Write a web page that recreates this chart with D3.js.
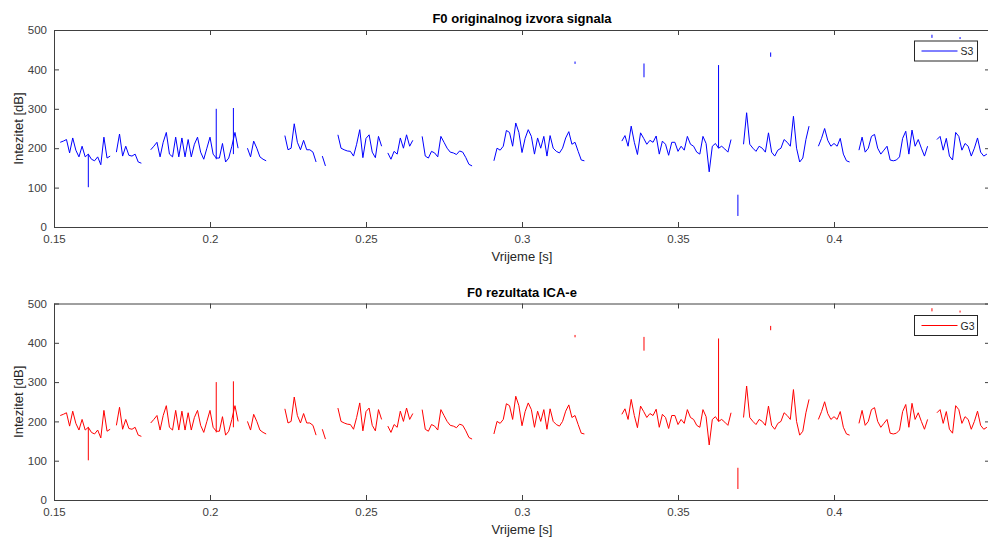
<html>
  <head>
    <meta charset="utf-8">
    <title>F0</title>
    <script src="https://d3js.org/d3.v7.min.js"></script>
    <style>
      body { margin: 0; background: #fff; }
      text { font-family: "Liberation Sans", Arial, sans-serif; }
    </style>
  </head>
  <body>

    <svg id="grafico" width="988" height="543"></svg>

    <script>
    // vrijeme pocetka i korak (s)
    const t0 = 0.15;
    const dt = 0.001;

    // F0 originalnog izvora (S3), jedna vrijednost po koraku, null = nema F0
    const s3 = [
      null, null, 215, 218, 222, 188, 226, 195, 178, 205,
      178, 185, 172, 168, 178, 158, 228, 175, 180, null,
      190, 236, 180, 205, 182, 180, 185, 165, 162, null,
      null, 196, 205, 215, 178, 215, 240, 185, 178, 228,
      178, 226, 178, 222, 178, 210, 228, 190, 172, 200,
      228, 185, 175, 175, 212, 165, 175, 205, 240, 200,
      null, null, 200, 178, 218, 200, 178, 172, 168, null,
      null, null, null, null, 232, 196, 200, 262, 215, 196,
      220, 196, 196, 190, 165, null, 180, 155, null, null,
      null, 234, 200, 196, 193, 192, 180, 210, 247, 176,
      225, 234, 190, 176, 230, 205, null, 188, 172, 192,
      185, 226, 200, 234, 205, 220, null, null, 230, 180,
      175, 192, 188, 178, 230, 215, 200, 190, 188, 184,
      193, 190, 176, 159, 155, null, null, null, null, null,
      null, 168, 200, 195, 205, 245, 240, 205, 264, 240,
      189, 225, 247, 230, 185, 226, 200, 230, 180, 232,
      200, 192, 188, 200, 226, 242, 210, 215, 192, 170,
      168, null, null, null, null, null, null, null, null, null,
      null, null, 218, 232, 205, 256, 215, 184, 239, 225,
      210, 220, 215, 231, 185, 218, 210, 182, 215, 215,
      192, 205, 195, 230, 210, 205, 190, 185, 230, 212,
      140, 205, 212, 200, 205, 198, 190, 222, null, null,
      null, 210, 290, 210, 200, 192, 205, 200, 190, 239,
      190, 180, 195, 200, 222, 215, 205, 281, 200, 165,
      175, 222, 256, null, null, 205, 225, 250, 220, 205,
      212, 205, 225, 185, 168, 165, null, null, 195, 228,
      190, 200, 230, 235, 200, 185, 195, 205, 170, 168,
      170, 178, 225, 243, 185, 246, 205, 222, 200, 180,
      205, null, null, 222, 230, 195, 225, 180, 170, 240,
      230, 195, 212, 205, 180, 200, 226, 190, 180, 185
    ];
    // rezultat ICA (G3) se poklapa sa S3
    const g3 = s3.slice();

    // kratki okomiti skokovi i izdvojeni odsjecci (vrijeme, donja i gornja vrijednost)
    const outT  = [0.161, 0.202, 0.2075, 0.363, 0.317, 0.3391, 0.3692, 0.3797, 0.4314, 0.4404];
    const outLo = [101, 172, 185, 200, 414, 380, 28, 432, 480, 477];
    const outHi = [185, 300, 302, 411, 420, 415, 82, 443, 488, 482];

    const xTicks = [0.15, 0.2, 0.25, 0.3, 0.35, 0.4];
    const xTickLabels = ["0.15", "0.2", "0.25", "0.3", "0.35", "0.4"];
    const yTicks = [0, 100, 200, 300, 400, 500];

    let left = 54, right = 990;
    let svg = d3.select("#grafico");

    let x = d3.scaleLinear().domain([0.15, 0.45]).range([left, right]);

    let panels = [
      {top: 30, bottom: 227, values: s3, color: "#0000ff", title: "F0 originalnog izvora signala", name: "S3", ly: 41},
      {top: 303.5, bottom: 500, values: g3, color: "#ff0000", title: "F0 rezultata ICA-e", name: "G3", ly: 315.5}
    ];

    panels.forEach(function(p, k){
      let y = d3.scaleLinear().domain([0, 500]).range([p.bottom, p.top]);
      let g = svg.append("g");

      g.append("clipPath").attr("id", "clip" + k)
        .append("rect").attr("x", left).attr("y", p.top)
        .attr("width", right - left).attr("height", p.bottom - p.top);

      // podaci
      let pts = p.values.map((v, i) => ({t: t0 + i * dt, v: v}));
      let line = d3.line().defined(d => d.v != null)
        .x(d => x(d.t)).y(d => y(d.v));

      let plot = g.append("g").attr("clip-path", "url(#clip" + k + ")");
      plot.append("path").attr("d", line(pts))
        .attr("fill", "none").attr("stroke", p.color).attr("stroke-width", 1);

      plot.selectAll("line.out").data(outT).enter().append("line")
        .attr("class", "out")
        .attr("x1", d => x(d)).attr("x2", d => x(d))
        .attr("y1", (d, i) => y(outLo[i])).attr("y2", (d, i) => y(outHi[i]))
        .attr("stroke", p.color).attr("stroke-width", 1);

      // osi
      let axColor = "#404040";
      let bottomAx = g.append("g").attr("transform", "translate(0," + p.bottom + ")")
        .call(d3.axisBottom(x).tickValues(xTicks).tickFormat((d, i) => xTickLabels[i])
          .tickSizeInner(-5).tickSizeOuter(0).tickPadding(8));
      let topAx = g.append("g").attr("transform", "translate(0," + p.top + ")")
        .call(d3.axisTop(x).tickValues(xTicks).tickFormat("")
          .tickSizeInner(-5).tickSizeOuter(0));
      let leftAx = g.append("g").attr("transform", "translate(" + left + ",0)")
        .call(d3.axisLeft(y).tickValues(yTicks).tickFormat(d3.format("d"))
          .tickSizeInner(-5).tickSizeOuter(0).tickPadding(7));
      let rightAx = g.append("g").attr("transform", "translate(" + right + ",0)")
        .call(d3.axisRight(y).tickValues(yTicks).tickFormat("")
          .tickSizeInner(-5).tickSizeOuter(0));

      [bottomAx, topAx, leftAx, rightAx].forEach(function(a){
        a.selectAll("path,line").attr("stroke", axColor);
        a.selectAll("text").attr("fill", "#404040")
          .style("font-family", "'Liberation Sans', Arial, sans-serif")
          .style("font-size", "11.5px");
      });

      // naslovi
      g.append("text").attr("x", (left + right) / 2).attr("y", p.top - 7)
        .attr("text-anchor", "middle").attr("font-weight", "bold")
        .attr("font-size", "13px").attr("fill", "#000")
        .text(p.title);
      g.append("text").attr("x", (left + right) / 2).attr("y", p.bottom + 34)
        .attr("text-anchor", "middle").attr("font-size", "13px").attr("fill", "#262626")
        .text("Vrijeme [s]");
      g.append("text")
        .attr("transform", "translate(23," + ((p.top + p.bottom) / 2) + ") rotate(-90)")
        .attr("text-anchor", "middle").attr("font-size", "13px").attr("fill", "#262626")
        .text("Intezitet [dB]");

      // legenda
      let leg = g.append("g").attr("transform", "translate(914.5," + p.ly + ")");
      leg.append("rect").attr("width", 63).attr("height", 20)
        .attr("fill", "#fff").attr("stroke", "#262626").attr("stroke-width", 1);
      leg.append("line").attr("x1", 7).attr("x2", 43).attr("y1", 10).attr("y2", 10)
        .attr("stroke", p.color).attr("stroke-width", 1);
      leg.append("text").attr("x", 46).attr("y", 14)
        .attr("font-size", "10.5px").attr("fill", "#262626").text(p.name);
    });
    </script>

  </body>
</html>
